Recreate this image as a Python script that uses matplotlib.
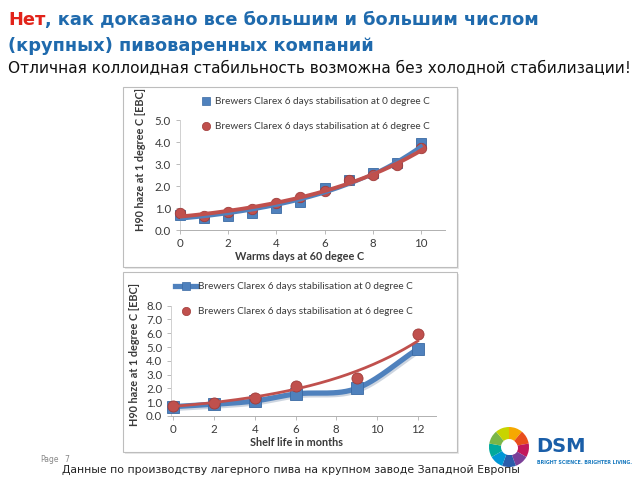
import numpy as np
import matplotlib
matplotlib.use("Agg")
import matplotlib.pyplot as plt
from matplotlib.patches import Rectangle, Wedge, Circle
from matplotlib.lines import Line2D
import matplotlib.transforms as mtrans

# ---------------- data ----------------
top_days = [0, 1, 2, 3, 4, 5, 6, 7, 8, 9, 10]
top_blue = [0.70, 0.56, 0.65, 0.79, 1.02, 1.29, 1.89, 2.27, 2.58, 3.06, 3.95]
top_red = [0.76, 0.65, 0.80, 0.94, 1.21, 1.52, 1.77, 2.27, 2.50, 2.95, 3.74]
top_xticks = [0, 2, 4, 6, 8, 10]
top_yticks = [0.0, 1.0, 2.0, 3.0, 4.0, 5.0]

bot_months = [0, 2, 4, 6, 9, 12]
bot_blue = [0.68, 0.85, 1.09, 1.60, 2.00, 4.86]
bot_red = [0.72, 0.97, 1.33, 2.17, 2.73, 5.97]
bot_xticks = [0, 2, 4, 6, 8, 10, 12]
bot_yticks = [0.0, 1.0, 2.0, 3.0, 4.0, 5.0, 6.0, 7.0, 8.0]

leg0 = "Brewers Clarex 6 days stabilisation at 0 degree C"
leg6 = "Brewers Clarex 6 days stabilisation at 6 degree C"
ylab = "H90 haze at 1 degree C [EBC]"
xlab_top = "Warms days at 60 degee C"
xlab_bot = "Shelf life in months"

title_red = "Нет"
title_rest1 = ", как доказано все большим и большим числом"
title_line2 = "(крупных) пивоваренных компаний"
subtitle = "Отличная коллоидная стабильность возможна без холодной стабилизации!"
footer = "Данные по производству лагерного пива на крупном заводе Западной Европы"

BLUE = "#4f81bd"
RED = "#c0504d"
TBLUE = "#1f6aad"
W, H = 640, 480

def expfit(x, y, xs):
    x = np.asarray(x, float); y = np.asarray(y, float)
    b, a = np.polyfit(x, np.log(y), 1)
    return np.exp(a + b * xs)

def smooth(x, y, n=30):
    x = np.asarray(x, float); y = np.asarray(y, float)
    m = np.zeros_like(y)
    m[0] = (y[1] - y[0]) / (x[1] - x[0])
    m[-1] = (y[-1] - y[-2]) / (x[-1] - x[-2])
    for i in range(1, len(x) - 1):
        m[i] = (y[i + 1] - y[i - 1]) / (x[i + 1] - x[i - 1])
    xs, ys = [], []
    for i in range(len(x) - 1):
        h = x[i + 1] - x[i]
        t = np.linspace(0, 1, n)
        h00 = 2*t**3 - 3*t**2 + 1; h10 = t**3 - 2*t**2 + t
        h01 = -2*t**3 + 3*t**2; h11 = t**3 - t**2
        xs.append(x[i] + t * h)
        ys.append(h00*y[i] + h10*h*m[i] + h01*y[i+1] + h11*h*m[i+1])
    return np.concatenate(xs), np.concatenate(ys)

fig = plt.figure(figsize=(6.4, 4.8), dpi=100)
bg = fig.add_axes([0, 0, 1, 1], zorder=0)
bg.set_xlim(0, W); bg.set_ylim(H, 0); bg.axis("off")

# panel boxes
for (x0, y0, x1, y1) in [(123, 87, 457, 267), (123, 272, 457, 452)]:
    bg.add_patch(Rectangle((x0 + 2, y0 + 2), x1 - x0, y1 - y0, facecolor="#e8e8e8", edgecolor="none"))
    bg.add_patch(Rectangle((x0, y0), x1 - x0, y1 - y0, facecolor="white", edgecolor="#bdbdbd", lw=0.8))

def pax(left, right, top, bottom):
    return fig.add_axes([left / W, 1 - bottom / H, (right - left) / W, (bottom - top) / H], zorder=2)

CF = "Lato"
TXT = "#3a3a3a"

def style(ax, xticks, yticks):
    ax.set_facecolor("none")
    for s in ["top", "right"]:
        ax.spines[s].set_visible(False)
    ax.spines["left"].set_color("#d0d0d0")
    ax.spines["bottom"].set_color("#b0b0b0")
    ax.spines["left"].set_linewidth(0.7)
    ax.spines["bottom"].set_linewidth(0.7)
    ax.set_xticks(xticks)
    ax.set_yticks(yticks)
    ax.set_yticklabels([f"{v:.1f}" for v in yticks])
    ax.tick_params(axis="both", labelsize=8.3, colors="#b0b0b0", labelcolor=TXT, length=3, width=0.6)
    ax.tick_params(axis="x", pad=3)
    for lab in ax.get_xticklabels() + ax.get_yticklabels():
        lab.set_family(CF)

# ---------------- top chart ----------------
ax1 = pax(180, 445, 120, 230)
ax1.set_xlim(0, 11); ax1.set_ylim(0, 5)
style(ax1, top_xticks, top_yticks)
xs = np.linspace(0, 10, 200)
ax1.plot(top_days, top_blue, ls="none", marker="s", ms=7.5, mfc=BLUE, mec="#3a6aa3", mew=0.6, zorder=3, clip_on=False)
ax1.plot(top_days, top_red, ls="none", marker="o", ms=7.5, mfc=RED, mec="#a03c3a", mew=0.6, zorder=4, clip_on=False)
ax1.plot(xs, expfit(top_days, top_blue, xs), color=BLUE, lw=2.5, zorder=5)
ax1.plot(xs, expfit(top_days, top_red, xs), color=RED, lw=2.8, zorder=6)
fig.text(300 / W, 1 - 257 / H, xlab_top, ha="center", va="center", fontsize=7.8, fontweight="bold", family=CF, color=TXT)
fig.text(141 / W, 1 - 160 / H, ylab, ha="center", va="center", rotation=90, fontsize=7.8, fontweight="bold", family=CF, color=TXT)
h1 = [Line2D([], [], ls="none", marker="s", ms=6, mfc=BLUE, mec="#3a6aa3", mew=0.5),
      Line2D([], [], ls="none", marker="o", ms=6, mfc=RED, mec="#a03c3a", mew=0.5)]
fig.legend(h1, [leg0, leg6], loc="upper left", bbox_to_anchor=(192 / W, 1 - 88 / H), frameon=False,
           prop={"family": CF, "size": 7.2}, labelspacing=1.6, handletextpad=0.4, handlelength=1.0,
           labelcolor=TXT)

# ---------------- bottom chart ----------------
ax2 = pax(171.3, 436, 305.7, 416)
ax2.set_xlim(-0.1, 12.9); ax2.set_ylim(0, 8)
style(ax2, bot_xticks, bot_yticks)
sx, sy = smooth(bot_months, bot_blue)
shadow = ax2.transData + mtrans.ScaledTranslation(1.0/72, -1.2/72, fig.dpi_scale_trans)
ax2.plot(sx, sy, color="#b8c4d4", lw=4.0, zorder=2, transform=shadow, alpha=0.7)
ax2.plot(sx, sy, color=BLUE, lw=3.8, zorder=3)
ax2.plot(bot_months, bot_blue, ls="none", marker="s", ms=8, mfc=BLUE, mec="#3a6aa3", mew=0.6, zorder=4, clip_on=False)
ax2.plot(bot_months, bot_red, ls="none", marker="o", ms=8, mfc=RED, mec="#a03c3a", mew=0.6, zorder=5, clip_on=False)
xs2 = np.linspace(0, 12, 200)
ax2.plot(xs2, expfit(bot_months, bot_red, xs2), color=RED, lw=2.0, zorder=6)
fig.text(296 / W, 1 - 443 / H, xlab_bot, ha="center", va="center", fontsize=7.8, fontweight="bold", family=CF, color=TXT)
fig.text(134 / W, 1 - 355 / H, ylab, ha="center", va="center", rotation=90, fontsize=7.8, fontweight="bold", family=CF, color=TXT)
h2 = [Line2D([], [], color=BLUE, lw=3.8, marker="s", ms=6, mfc=BLUE, mec="#3a6aa3", mew=0.5),
      Line2D([], [], ls="none", marker="o", ms=6, mfc=RED, mec="#a03c3a", mew=0.5)]
fig.legend(h2, [leg0, leg6], loc="upper left", bbox_to_anchor=(166 / W, 1 - 273 / H), frameon=False,
           prop={"family": CF, "size": 7.2}, labelspacing=1.6, handletextpad=0.1, handlelength=2.2,
           labelcolor=TXT)

# ---------------- titles ----------------
TF = ["DejaVu Sans"]
TS = 12.8
t_red = fig.text(8 / W, 1 - 20 / H, title_red, ha="left", va="center", fontsize=TS, fontweight="bold", family=TF, color="#e2231a")
fig.canvas.draw()
bb = t_red.get_window_extent(renderer=fig.canvas.get_renderer())
fig.text(bb.x1 / W, 1 - 20 / H, title_rest1, ha="left", va="center", fontsize=TS, fontweight="bold", family=TF, color=TBLUE)
fig.text(8 / W, 1 - 46 / H, title_line2, ha="left", va="center", fontsize=TS, fontweight="bold", family=TF, color=TBLUE)
fig.text(8 / W, 1 - 69 / H, subtitle, ha="left", va="center", fontsize=11.1, family=["DejaVu Sans"], color="#111111")

# footer
fig.text(40 / W, 1 - 460 / H, "Page", fontsize=5.5, color="#888888", ha="left", va="center")
fig.text(64 / W, 1 - 459 / H, "7", fontsize=5.5, color="#888888", ha="left", va="center")
fig.text(62 / W, 1 - 470 / H, footer, fontsize=7.8, color="#222222", ha="left", va="center", family=["DejaVu Sans"])

# DSM logo
cx, cy = 509, 447
cols = ["#f6a800", "#e94e1b", "#c2185b", "#7b3f98", "#2a5caa", "#0096d6", "#00a99d", "#7ab648", "#c8d400"]
n = len(cols)
for i, c in enumerate(cols):
    bg.add_patch(Wedge((cx, cy), 20, i * 360 / n - 90, (i + 1) * 360 / n - 90, width=12, facecolor=c, edgecolor="none"))
bg.add_patch(Circle((cx + 2, cy + 1), 7, facecolor="white", edgecolor="none"))
fig.text(536 / W, 1 - 446 / H, "DSM", fontsize=14, fontweight="bold", color="#1a5ea8", ha="left", va="center", family=["DejaVu Sans"])
fig.text(537 / W, 1 - 462 / H, "BRIGHT SCIENCE. BRIGHTER LIVING.", fontsize=3.4, fontweight="bold", color="#1a7bc0", ha="left", va="center")

fig.savefig("out.png", dpi=100)
